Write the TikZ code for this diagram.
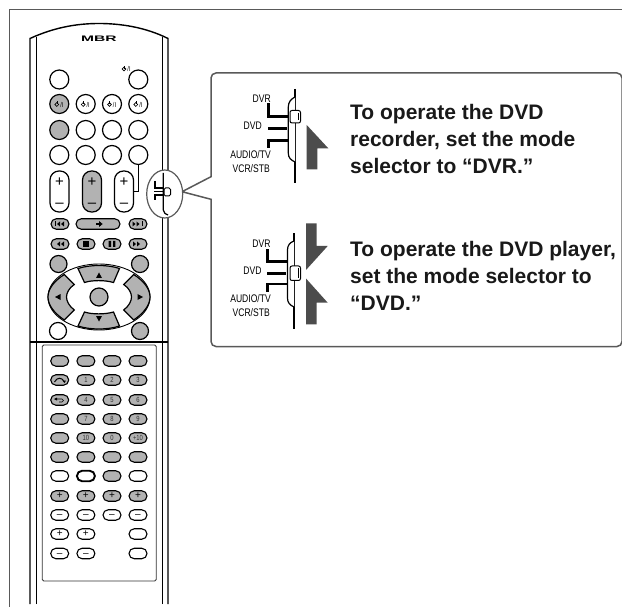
\documentclass[tikz,border=0pt]{standalone}
\usepackage{fontspec}
\usetikzlibrary{shapes.misc}
\newfontfamily\boldf{Liberation Sans Bold}
\newfontfamily\plainf{Liberation Sans}
\newfontfamily\condf[FakeStretch=0.78]{Liberation Sans}
\definecolor{btngray}{gray}{0.7}
\definecolor{framegray}{gray}{0.35}
\definecolor{arrowgray}{gray}{0.3}
\tikzset{
  rbtn/.style={circle,draw=black,line width=1.2pt,fill=white,minimum size=19pt,inner sep=0pt},
  sbtn/.style={circle,draw=black,line width=1.2pt,fill=white,minimum size=17pt,inner sep=0pt},
  pbtn/.style={rounded rectangle,draw=black,line width=1.1pt,fill=white,minimum width=18pt,minimum height=10.5pt,inner sep=0pt},
  vbtn/.style={rectangle,rounded corners=9pt,draw=black,line width=1.2pt,fill=white,minimum width=19pt,minimum height=41pt,inner sep=0pt},
  sw/.style={line width=1.5pt,black},
  tick/.style={line width=2.6pt,black},
  lab/.style={font=\condf\fontsize{11}{11}\selectfont,anchor=east,inner sep=0pt},
  msg/.style={font=\boldf\fontsize{21}{27}\selectfont,anchor=north west,align=left,inner sep=0pt,text=black!90},
  signb/.style={inner sep=0pt,font=\plainf\fontsize{15}{15}\selectfont},
  signs/.style={inner sep=0pt,font=\plainf\fontsize{10}{10}\selectfont},
  num/.style={inner sep=0pt,font=\condf\fontsize{7.5}{7.5}\selectfont,text=black!80},
  gr/.style={fill=btngray}
}
\newcommand\pwr[2]{% x y
  \draw[line width=.6pt] (#1,#2) circle (1.9);
  \draw[line width=.6pt] (#1,#2-3) -- (#1,#2-.4);
  \node[inner sep=0pt,font=\condf\fontsize{7}{7}\selectfont] at (#1+5.0,#2) {/I};
}
\newcommand\rtri[3]{\fill (#1,#2-#3) -- (#1+#3*1.2,#2) -- (#1,#2+#3) -- cycle;}
\newcommand\ltri[3]{\fill (#1,#2-#3) -- (#1-#3*1.2,#2) -- (#1,#2+#3) -- cycle;}
\begin{document}
\begin{tikzpicture}[x=1pt,y=-1pt]
\useasboundingbox (0,0) rectangle (622,607);
% frame
\draw[framegray,line width=1pt] (9,607) -- (9,10) -- (622,10);
% remote body
\draw[line width=1.4pt] (30,604) -- (30,38.5) .. controls (55,27) and (78,23.5) .. (99,23.5) .. controls (120,23.5) and (145,27) .. (168,38.5) -- (168,604);
\draw[line width=.8pt] (36,604) -- (36,37) (162.7,604) -- (162.7,37);
\node[inner sep=0pt,font=\boldf\fontsize{8}{8}\selectfont,xscale=1.95] (logo) at (99,38.5) {MBR};
% round buttons
\node[rbtn] (c11) at (59.3,79.5) {};
\node[rbtn] (c14) at (138.3,79.5) {};
\node[rbtn,gr] (c21) at (59.3,104) {};
\node[rbtn] (c22) at (85.7,104) {};
\node[rbtn] (c23) at (112,104) {};
\node[rbtn] (c24) at (138.3,104) {};
\node[rbtn,gr] (c31) at (59.3,130) {};
\node[rbtn] (c32) at (85.7,130) {};
\node[rbtn] (c33) at (112,130) {};
\node[rbtn] (c34) at (138.3,130) {};
\node[rbtn] (c41) at (59.3,155) {};
\node[rbtn] (c42) at (85.7,155) {};
\node[rbtn] (c43) at (112,155) {};
\node[rbtn] (c44) at (138.3,155) {};
\pwr{124}{69}
\pwr{56.8}{104.5}\pwr{83.2}{104.5}\pwr{109.5}{104.5}\pwr{135.8}{104.5}
% volume pills
\node[vbtn] (v1) at (59.5,191.5) {};
\node[vbtn,gr] (v2) at (92,191.5) {};
\node[vbtn] (v3) at (124,191.5) {};
\foreach \x in {59.5,92,124}{
  \node[signb] at (\x,182.5) {+};
  \node[signb] at (\x,205) {–};
}
\draw[line width=1pt] (c44.south) |- (v3.east);
% transport
\node[pbtn,gr] (t1) at (60,224) {};
\node[pbtn,gr,minimum width=44pt] (t2) at (98,224) {};
\node[pbtn,gr] (t3) at (138,224) {};
\node[pbtn,gr] (u1) at (60,244) {};
\node[pbtn,gr] (u2) at (86,244) {};
\node[pbtn,gr] (u3) at (112,244) {};
\node[pbtn,gr] (u4) at (138,244) {};
\fill (55,221.5) rectangle (55.9,226.5); \ltri{60}{224}{2.5}\ltri{64}{224}{2.5}
\rtri{99}{224}{3}\fill (95.5,223.4) rectangle (100,224.6);
\rtri{132.5}{224}{2.5}\rtri{136.5}{224}{2.5}\fill (142,221.5) rectangle (142.9,226.5);
\ltri{60}{244}{2.5}\ltri{64}{244}{2.5}
\fill (83.2,241.2) rectangle (88.8,246.8);
\fill (108.7,241) rectangle (111,247) (113,241) rectangle (115.3,247);
\rtri{133}{244}{2.5}\rtri{137}{244}{2.5}
% side round buttons
\node[sbtn,gr] (n1) at (58.5,264) {};
\node[sbtn,gr] (n2) at (140,264) {};
\node[sbtn] (n3) at (58,331) {};
\node[sbtn,gr] (n4) at (140,331) {};
% dial
\draw[line width=.9pt,fill=white] (99,297) ellipse (51 and 33);
\draw[line width=1.2pt,gr] (78,268.5) .. controls (90,264.5) and (108,264.5) .. (119.5,268.5) -- (113.5,282.5) .. controls (105,280) and (92,280) .. (84.5,282.5) -- cycle;
\draw[line width=1.2pt,gr] (78,326) .. controls (90,330) and (108,330) .. (119.5,326) -- (113.5,312) .. controls (105,314.5) and (92,314.5) .. (84.5,312) -- cycle;
\draw[line width=1.2pt,gr] (64.3,274.5) .. controls (54,281) and (48,289) .. (48,297) .. controls (48,305) and (54,313) .. (64.3,320) -- (74.3,310) .. controls (69,306) and (66.5,301) .. (66.5,297) .. controls (66.5,293) and (69,288) .. (74.3,284.5) -- cycle;
\draw[line width=1.2pt,gr] (133.7,274.5) .. controls (144,281) and (150,289) .. (150,297) .. controls (150,305) and (144,313) .. (133.7,320) -- (123.7,310) .. controls (129,306) and (131.5,301) .. (131.5,297) .. controls (131.5,293) and (129,288) .. (123.7,284.5) -- cycle;
\node[rbtn,gr,minimum size=18pt] (ok) at (99,297) {};
\fill (99,272.5) -- (102,278) -- (96,278) -- cycle;
\fill (99,321.5) -- (102,316) -- (96,316) -- cycle;
\fill (55,297) -- (60.5,294) -- (60.5,300) -- cycle;
\fill (143,297) -- (137.5,294) -- (137.5,300) -- cycle;
% divider and panel
\draw[line width=1.4pt] (30,342) -- (168,342);
\draw[line width=.8pt,rounded corners=1.5pt,black!80] (42.3,345) rectangle (156.3,581);
% keypad
\foreach \x/\n in {59.7/1,85.9/2,112/3,138/4}{
  \node[pbtn,gr] (k1\n) at (\x,361) {};
  \node[pbtn,gr] (k2\n) at (\x,380) {};
  \node[pbtn,gr] (k3\n) at (\x,400) {};
  \node[pbtn,gr] (k4\n) at (\x,419) {};
  \node[pbtn,gr] (k5\n) at (\x,438) {};
  \node[pbtn,gr] (k6\n) at (\x,457) {};
  \node[pbtn,gr] (k8\n) at (\x,496) {};
  \node[signs] at (\x,496) {+};
  \node[pbtn] (k9\n) at (\x,515) {};
  \node[signs] at (\x,516.3) {–};
}
\foreach \n/\t in {2/1,3/2,4/3}{\node[num] at (k2\n) {\t};}
\foreach \n/\t in {2/4,3/5,4/6}{\node[num] at (k3\n) {\t};}
\foreach \n/\t in {2/7,3/8,4/9}{\node[num] at (k4\n) {\t};}
\foreach \n/\t in {2/10,3/0,4/+10}{\node[num] at (k5\n) {\t};}
\draw[line width=1pt] (54.5,382) .. controls (57,377) and (62,377) .. (64.5,382);
\fill (64.5,383) -- (62.5,380.5) -- (66,380.5) -- cycle;
\draw[line width=.7pt] (55,399) -- (62,399) .. controls (64,399) and (64,402) .. (62,402) -- (59,402);
\fill (54,399) -- (57,397.5) -- (57,400.5) -- cycle;
\node[pbtn] (k71) at (59.7,476) {};
\node[pbtn,line width=1.9pt] (k72) at (85.9,476) {};
\node[pbtn,gr] (k73) at (112,476) {};
\node[pbtn] (k74) at (138,476) {};
\node[pbtn] (k101) at (59.7,534) {}; \node[signs] at (59.7,534) {+};
\node[pbtn] (k102) at (85.9,534) {}; \node[signs] at (85.9,534) {+};
\node[pbtn] (k104) at (138,534) {};
\node[pbtn] (k111) at (59.7,553.5) {}; \node[signs] at (59.7,554.8) {–};
\node[pbtn] (k112) at (85.9,553.5) {}; \node[signs] at (85.9,554.8) {–};
\node[pbtn] (k114) at (138,553.5) {};
% callout
\draw[framegray,line width=1.5pt,fill=white,rounded corners=5pt] (211,176.7) -- (211,73) -- (622,73) -- (622,346.5) -- (211,346.5) [sharp corners] -- (211,199.3) -- (182,191.7) -- cycle;
% magnifier
\draw[framegray,line width=1.2pt,fill=white] (164.7,194) ellipse (18 and 24);
\draw[line width=1.2pt] (163.3,173) -- (163.3,210) .. controls (164,213) and (165.5,214.5) .. (168,215);
\draw[line width=1pt,fill=white,rounded corners=1.5pt] (164,188) rectangle (170.5,196);
\draw[line width=1.2pt] (155,181) -- (155,188) -- (163,188);
\draw[line width=1.2pt] (154,191.5) -- (163,191.5);
\draw[line width=1.2pt] (155,200) -- (155,195) -- (163,195);
% top switch
\draw[sw] (295,89) -- (295,183);
\draw[line width=1.2pt,fill=white] (295,97) .. controls (291,99) and (288.3,102) .. (288.3,107) -- (288.3,153) .. controls (288.3,158) and (291,160) .. (295,162);
\draw[line width=1pt,fill=white,rounded corners=2pt] (290,110.5) rectangle (300.5,123);
\draw[line width=.8pt] (298,113) -- (298,120.5);
\draw[tick] (268.3,103) -- (268.3,116.7) -- (288,116.7);
\draw[tick] (268.3,128.5) -- (287,128.5);
\draw[tick] (268.3,148) -- (268.3,140.5) -- (288,140.5);
\node[lab] at (271,99) {DVR};
\node[lab] at (262,126) {DVD};
\node[lab] at (271,155) {AUDIO/TV};
\node[lab] at (270,169) {VCR/STB};
\fill[arrowgray] (306.7,125) -- (328.3,148.3) -- (317.3,148.3) -- (317.3,169.5) -- (306.7,169.5) -- cycle;
% bottom switch
\draw[sw] (294,233.5) -- (294,328.5);
\draw[line width=1.2pt,fill=white] (294,241) .. controls (290,242.5) and (287.5,245) .. (287.5,250) -- (287.5,298) .. controls (287.5,303) and (290,305) .. (294,307);
\draw[line width=1pt,fill=white,rounded corners=2pt] (290,266) rectangle (300.5,280.5);
\draw[line width=.8pt] (298,268.5) -- (298,278);
\draw[tick] (267.3,249.5) -- (267.3,261.7) -- (287,261.7);
\draw[tick] (267.3,273.3) -- (286,273.3);
\draw[tick] (267.3,292) -- (267.3,284) -- (287,284);
\node[lab] at (270.7,244) {DVR};
\node[lab] at (261.7,271) {DVD};
\node[lab] at (271,299) {AUDIO/TV};
\node[lab] at (270,313) {VCR/STB};
\fill[arrowgray] (306,223.5) -- (316.7,223.5) -- (316.7,246) -- (327.7,246) -- (306,270) -- cycle;
\fill[arrowgray] (306,278.5) -- (327.7,302.7) -- (316.7,302.7) -- (316.7,324.3) -- (306,324.3) -- cycle;
% text
\node[msg] (m1) at (350,104) {To operate the DVD\\recorder, set the mode\\selector to “DVR.”};
\node[msg] (m2) at (350,240.7) {To operate the DVD player,\\set the mode selector to\\“DVD.”};
\end{tikzpicture}
\end{document}
